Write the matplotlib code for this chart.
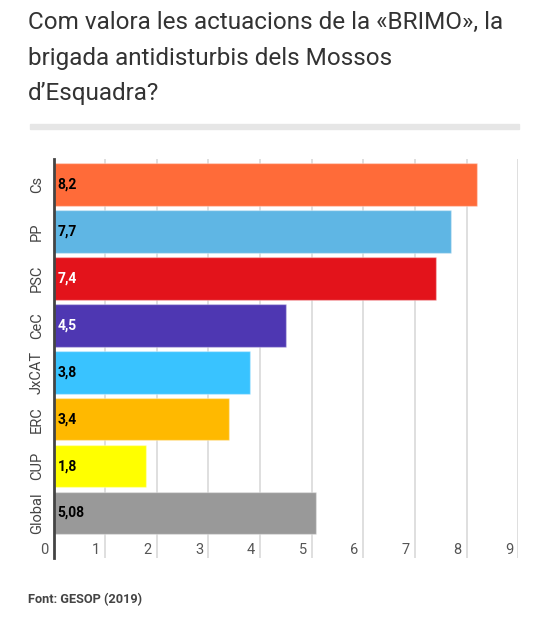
import matplotlib
matplotlib.use('Agg')
import matplotlib.pyplot as plt
import matplotlib.transforms as mtransforms

# dades
parties = ['Cs', 'PP', 'PSC', 'CeC', 'JxCAT', 'ERC', 'CUP', 'Global']
values = [8.2, 7.7, 7.4, 4.5, 3.8, 3.4, 1.8, 5.08]
value_labels = ['8,2', '7,7', '7,4', '4,5', '3,8', '3,4', '1,8', '5,08']
colors = ['#ff6b39', '#5fb6e4', '#e3131b', '#4e37b2', '#39c3ff', '#ffb900', '#ffff00', '#999999']
label_colors = ['black', 'black', 'white', 'white', 'black', 'black', 'black', 'black']
x_ticks = list(range(0, 10))

plt.rcParams['font.family'] = ['Roboto', 'DejaVu Sans']

fig = plt.figure(figsize=(5.46, 6.24), dpi=100)
ax = fig.add_axes([0.098, 0.1058, 0.851, 0.6394])

y = list(range(len(parties)))
ax.barh(y, values, height=0.906, color=colors, edgecolor=(1, 1, 1, 0.35),
        linewidth=1, zorder=2)

for i, (lab, c) in enumerate(zip(value_labels, label_colors)):
    ax.annotate(lab, xy=(0, i), xytext=(3, 0), textcoords='offset points',
                ha='left', va='center', fontsize=10, fontweight='bold',
                color=c, zorder=3)

ax.set_xlim(0, 9)
ax.set_ylim(7.96, -0.548)

# gridlines
for t in x_ticks[1:]:
    ax.axvline(t, color='#d9d9d9', lw=1.2, zorder=1)

# etiquetes de l'eix x dins del gràfic, a l'esquerra de cada línia
offset = mtransforms.offset_copy(ax.transData, fig=fig, x=-5, y=0, units='dots')
for t in x_ticks:
    ax.text(t, 7.8, str(t), transform=offset, ha='right', va='center',
            fontsize=10.5, color='#555555')

ax.set_xticks([])
ax.set_yticks(y)
ax.set_yticklabels(parties, rotation=90, va='center', fontsize=10.5, color='#444444')
ax.tick_params(axis='y', length=0, pad=7)

for s in ['top', 'right', 'bottom']:
    ax.spines[s].set_visible(False)
ax.spines['left'].set_color('#444444')
ax.spines['left'].set_linewidth(2)
ax.spines['left'].set_zorder(4)

# títol
fig.text(28 / 546, 1 - 11 / 624,
         'Com valora les actuacions de la «BRIMO», la\nbrigada antidisturbis dels Mossos\nd’Esquadra?',
         ha='left', va='top', fontsize=17.5, color='#333333', linespacing=1.7)

# separador
fig.patches.append(plt.Rectangle((30 / 546, 1 - 129 / 624), 489 / 546, 5 / 624,
                                 transform=fig.transFigure, color='#e6e6e6', zorder=0))

fig.text(28 / 546, 1 - 600 / 624, 'Font: GESOP (2019)', ha='left', va='center',
         fontsize=9.2, fontweight='bold', color='#444444')

fig.savefig('out.png', dpi=100)
